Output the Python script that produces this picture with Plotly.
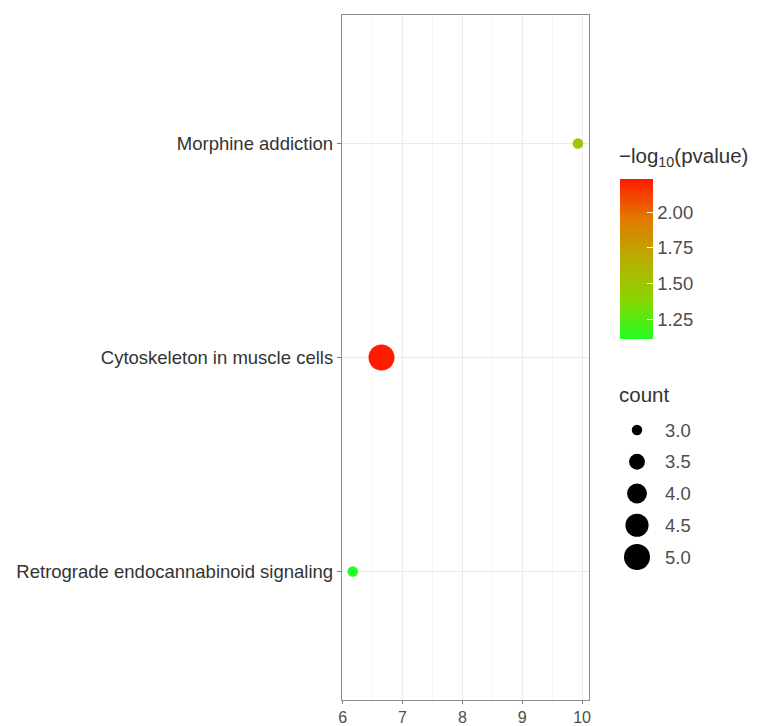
import plotly.graph_objects as go
import math

# ---- data ----
pathways = ["Retrograde endocannabinoid signaling", "Cytoskeleton in muscle cells", "Morphine addiction"]
x_values = [6.17, 6.65, 9.93]
neglog10_p = [1.11, 2.23, 1.47]
counts = [3, 5, 3]
legend_counts = [3.0, 3.5, 4.0, 4.5, 5.0]
x_ticks = [6, 7, 8, 9, 10]
cbar_ticks = [1.25, 1.50, 1.75, 2.00]

# ---- styling ----
W, H = 763, 726
ML, MR, MT, MB = 342, 1, 15, 26
PW = W - ML - MR
PH = H - MT - MB
main_right_px = 589
DMIN, DMAX = 10.5, 26.0
cmin, cmax = min(neglog10_p), max(neglog10_p)
cmin_all = min(counts + legend_counts)
cmax_all = max(counts + legend_counts)


def diam(c):
    t = (c - cmin_all) / (cmax_all - cmin_all)
    return math.sqrt(DMIN ** 2 + t * (DMAX ** 2 - DMIN ** 2))


def px_x(p):
    return (p - ML) / PW


def px_y(p):
    return (H - MB - p) / PH


colorscale = [
    [0.0, "#22ff22"],
    [0.25, "#8cd400"],
    [0.5, "#b8ae00"],
    [0.75, "#e27a00"],
    [1.0, "#ff1a00"],
]

font_family = "Liberation Sans, Arial, Helvetica, sans-serif"
txt = "#4d4d4d"
LBL = 18.5
TTL = 20.5

fig = go.Figure()

fig.add_trace(go.Scatter(
    x=x_values, y=pathways, mode="markers",
    marker=dict(
        size=[diam(c) for c in counts], opacity=1,
        color=neglog10_p, colorscale=colorscale, cmin=cmin, cmax=cmax,
        line=dict(width=0),
        colorbar=dict(
            xref="container", yref="container",
            x=620 / W, xanchor="left",
            y=1 - 190 / H, yanchor="top",
            lenmode="pixels", len=160, thicknessmode="pixels", thickness=33,
            tickvals=cbar_ticks, ticktext=[f"{v:.2f}" for v in cbar_ticks],
            ticks="inside", ticklen=6, tickcolor="white", tickwidth=1,
            tickfont=dict(size=LBL, color=txt, family=font_family),
            outlinewidth=0, xpad=0, ypad=0,
        ),
    ),
    showlegend=False, hoverinfo="x+y",
))

# size legend drawn on an auxiliary axis
fig.add_trace(go.Scatter(
    x=[0.37] * len(legend_counts), y=legend_counts, mode="markers",
    marker=dict(size=[diam(c) for c in legend_counts], color="black", opacity=1, line=dict(width=0)),
    xaxis="x2", yaxis="y2", showlegend=False, hoverinfo="skip",
))

for v in legend_counts:
    fig.add_annotation(x=0.63, y=v, xref="x2", yref="y2", text=f"{v:.1f}",
                       showarrow=False, xanchor="left", yanchor="middle",
                       font=dict(size=LBL, color=txt, family=font_family))
fig.add_annotation(x=px_x(617), y=px_y(394), xref="paper", yref="paper", text="count",
                   showarrow=False, xanchor="left", yanchor="middle",
                   font=dict(size=TTL, color="#333333", family=font_family))

# colour bar title
fig.add_annotation(x=px_x(617), y=px_y(157), xref="paper", yref="paper",
                   text="\u2212log<sub>10</sub>(pvalue)", showarrow=False,
                   xanchor="left", yanchor="middle",
                   font=dict(size=TTL, color="#333333", family=font_family))

main_dom = px_x(main_right_px)
leg_x0, leg_x1 = px_x(600), px_x(700)
leg_y0, leg_y1 = px_y(590), px_y(380)
upx = 0.5 / 31.75
v_top = 3.0 - (430 - 380) * upx
v_bot = 3.0 + (590 - 430) * upx

fig.update_layout(
    width=W, height=H,
    margin=dict(l=ML, r=MR, t=MT, b=MB, autoexpand=False),
    paper_bgcolor="white", plot_bgcolor="white",
    font=dict(family=font_family, color=txt),
    xaxis=dict(
        domain=[0, main_dom], range=[5.99, 10.115],
        tickvals=x_ticks, ticktext=[str(t) for t in x_ticks],
        ticks="outside", ticklen=3, tickcolor="#7f7f7f",
        tickfont=dict(size=16, color=txt),
        showgrid=True, gridcolor="#ebebeb", gridwidth=1,
        minor=dict(dtick=0.5, tick0=6, showgrid=True, gridcolor="#f4f4f4", gridwidth=1),
        showline=True, linecolor="#8c8c8c", linewidth=1.3, mirror=True,
        zeroline=False, fixedrange=True, automargin=False,
    ),
    yaxis=dict(
        categoryorder="array", categoryarray=pathways,
        range=[-0.6, 2.6],
        ticks="outside", ticklen=4, tickcolor="#7f7f7f",
        tickfont=dict(size=LBL, color="#333333"),
        showgrid=True, gridcolor="#ebebeb", gridwidth=1,
        showline=True, linecolor="#8c8c8c", linewidth=1.3, mirror=True,
        zeroline=False, fixedrange=True, automargin=False,
    ),
    xaxis2=dict(domain=[leg_x0, leg_x1], range=[0, 1], visible=False, fixedrange=True, anchor="y2"),
    yaxis2=dict(domain=[leg_y0, leg_y1], range=[v_bot, v_top], visible=False, fixedrange=True, anchor="x2"),
)

fig.write_html("out.html")
